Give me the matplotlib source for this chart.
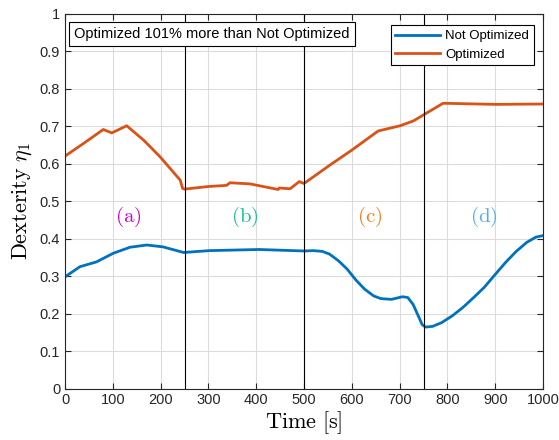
import matplotlib
matplotlib.use("Agg")
from matplotlib import pyplot as plt
from matplotlib.ticker import MultipleLocator, FuncFormatter

# Datos
t_no_opt = [0, 31, 66, 101, 136, 171, 205, 248, 302, 406, 501, 519, 538, 553, 572,
            590, 609, 627, 646, 661, 683, 706, 717, 728, 739, 747, 754, 769, 788,
            810, 832, 855, 877, 899, 922, 944, 966, 985, 1000]
dex_no_opt = [0.298, 0.325, 0.338, 0.361, 0.377, 0.383, 0.378, 0.363, 0.368, 0.371,
              0.367, 0.368, 0.366, 0.359, 0.341, 0.319, 0.289, 0.265, 0.247, 0.240,
              0.238, 0.245, 0.243, 0.225, 0.194, 0.171, 0.164, 0.166, 0.176, 0.194,
              0.216, 0.243, 0.270, 0.303, 0.337, 0.366, 0.390, 0.404, 0.408]

t_opt = [0, 40, 80, 98, 129, 165, 199, 241, 246, 250, 300, 338, 345, 387, 446, 448,
         471, 490, 500, 554, 600, 655, 701, 729, 750, 791, 900, 1000]
dex_opt = [0.620, 0.655, 0.691, 0.682, 0.701, 0.662, 0.618, 0.556, 0.534, 0.532,
           0.539, 0.542, 0.549, 0.546, 0.531, 0.535, 0.533, 0.552, 0.547, 0.596,
           0.636, 0.687, 0.701, 0.714, 0.730, 0.761, 0.758, 0.759]

fases = [250, 500, 750]
etiquetas = ['(a)', '(b)', '(c)', '(d)']
pos_etiquetas = [132, 376, 638, 876]
colores_etiquetas = ['#CC00CC', '#1ABC9C', '#F07F1A', '#4DAEE8']

plt.rcParams['font.family'] = ['Liberation Sans', 'DejaVu Sans']
plt.rcParams['mathtext.fontset'] = 'cm'

fig = plt.figure(figsize=(5.59, 4.40), dpi=100)
ax = fig.add_axes([0.1163, 0.1168, 0.8551, 0.8522])

ax.plot(t_no_opt, dex_no_opt, color='#0072BD', linewidth=2.0, label='Not Optimized')
ax.plot(t_opt, dex_opt, color='#D95319', linewidth=2.0, label='Optimized')

for f in fases:
    ax.axvline(f, color='black', linewidth=0.8)

for x, txt, c in zip(pos_etiquetas, etiquetas, colores_etiquetas):
    ax.text(x, 0.457, r'$\mathrm{' + txt + '}$', color=c, fontsize=15,
            ha='center', va='center')

ax.set_xlim(0, 1000)
ax.set_ylim(0, 1)
ax.xaxis.set_major_locator(MultipleLocator(100))
ax.yaxis.set_major_locator(MultipleLocator(0.1))
ax.yaxis.set_major_formatter(FuncFormatter(lambda v, p: '%g' % round(v, 2)))
ax.grid(True, color='#dcdcdc', linewidth=0.8)
ax.set_axisbelow(True)
ax.tick_params(direction='in', top=True, right=True, length=4, labelsize=10.5,
               colors='#262626')
for s in ax.spines.values():
    s.set_color('#262626')
    s.set_linewidth(0.8)

ax.set_xlabel(r'$\mathrm{Time}\ [\mathrm{s}]$', fontsize=16, labelpad=1)
ax.set_ylabel(r'$\mathrm{Dexterity}\ \eta_1$', fontsize=16, labelpad=4)

ax.text(0.019, 0.945, 'Optimized 101% more than Not Optimized', transform=ax.transAxes,
        fontsize=10.5, va='center', ha='left',
        bbox=dict(boxstyle='square,pad=0.35', facecolor='white', edgecolor='black',
                  linewidth=0.8))

leg = ax.legend(loc='upper right', bbox_to_anchor=(0.989, 0.979), fontsize=9.5,
                fancybox=False, framealpha=1, edgecolor='black', handlelength=3.4,
                borderpad=0.35, labelspacing=0.45, handletextpad=0.4,
                borderaxespad=0.3)
leg.get_frame().set_linewidth(0.8)

fig.savefig('out.png', dpi=100)
